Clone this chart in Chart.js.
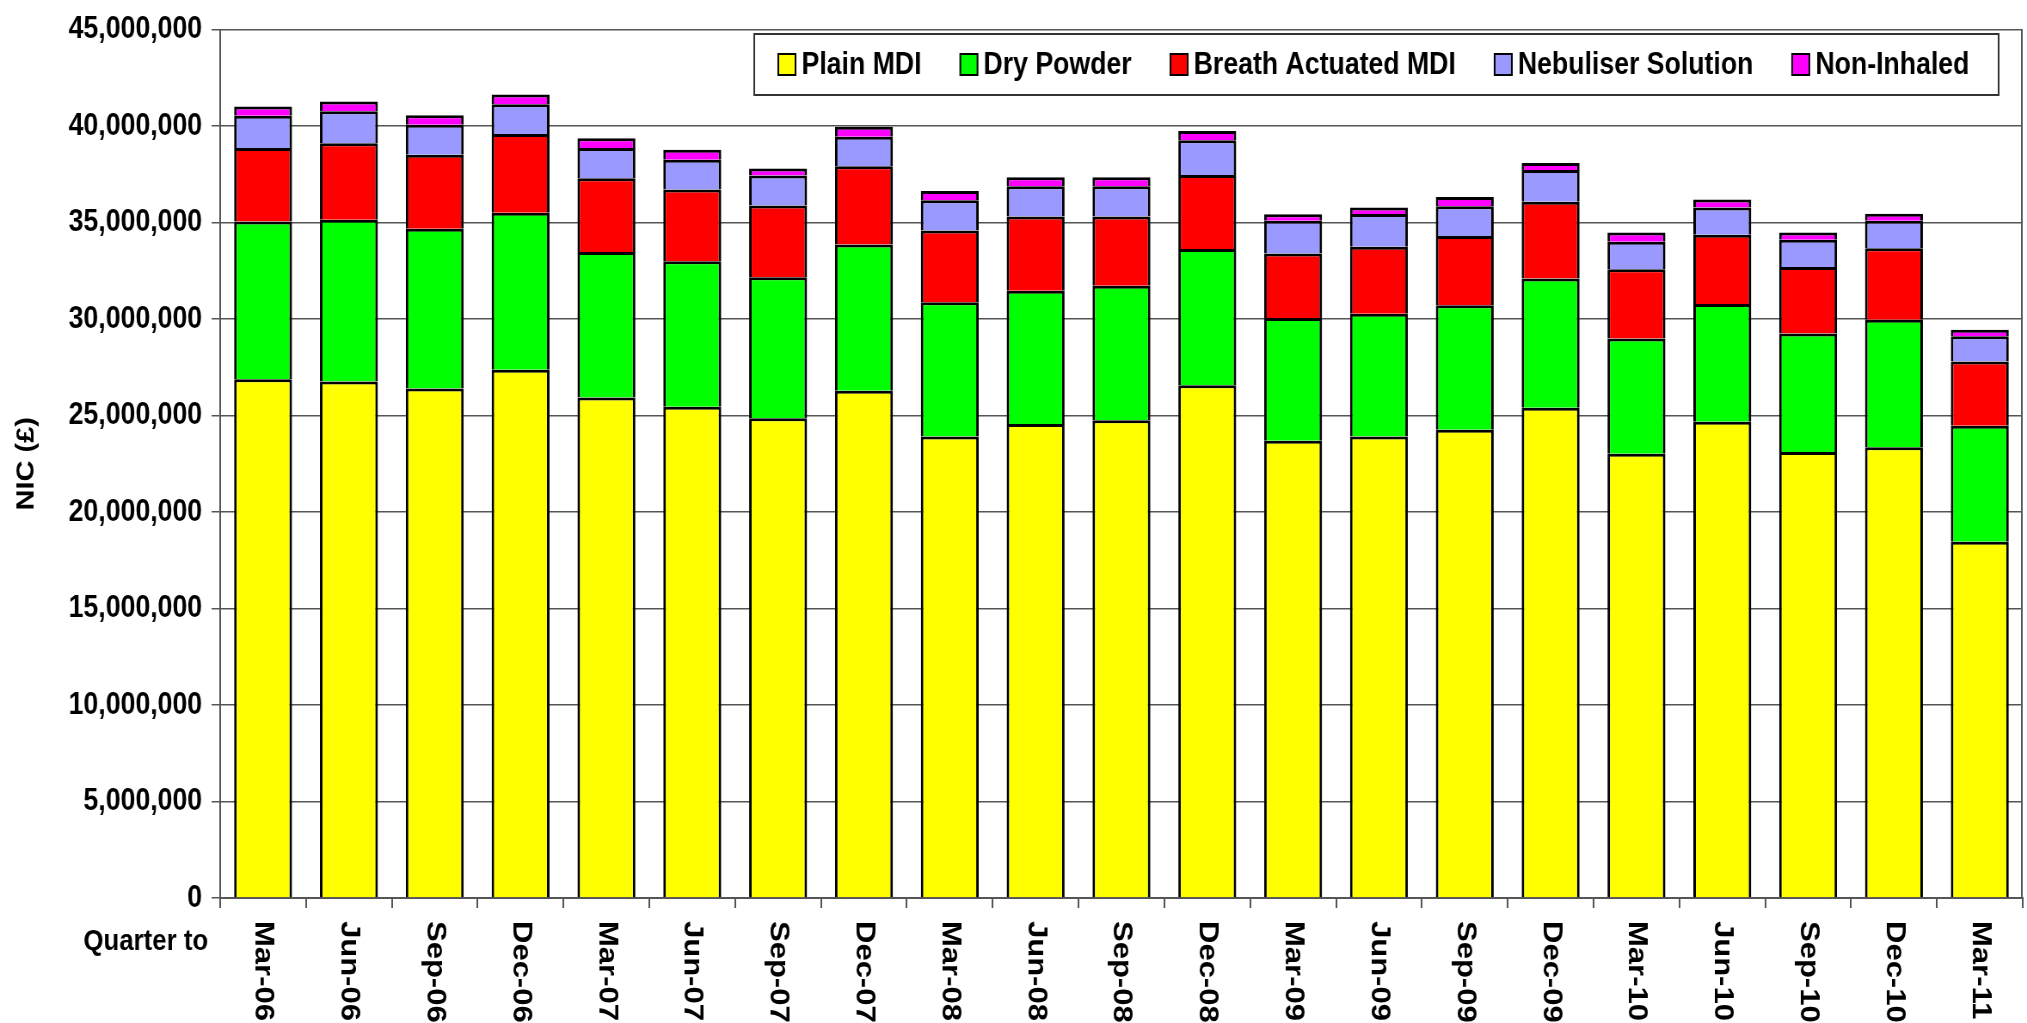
<!DOCTYPE html>
<html>
<head>
<meta charset="utf-8">
<script src="https://cdn.jsdelivr.net/npm/chart.js@4.4.1/dist/chart.umd.min.js"></script>
<style>
  html, body { margin: 0; padding: 0; background: #fff; overflow: hidden; }
  #nicChart { display: block; }
</style>
</head>
<body>
<canvas id="nicChart"></canvas>
<script>
// Quarterly NIC (£ million) by inhaler type
const quarters = ['Mar-06', 'Jun-06', 'Sep-06', 'Dec-06', 'Mar-07', 'Jun-07', 'Sep-07', 'Dec-07',
    'Mar-08', 'Jun-08', 'Sep-08', 'Dec-08', 'Mar-09', 'Jun-09', 'Sep-09', 'Dec-09',
    'Mar-10', 'Jun-10', 'Sep-10', 'Dec-10', 'Mar-11'];

const plainMdi = [26.88, 26.77, 26.40, 27.37, 25.94, 25.46, 24.86, 26.29, 23.92, 24.56, 24.76,
    26.57, 23.70, 23.92, 24.26, 25.41, 23.02, 24.68, 23.11, 23.36, 18.46];
const dryPowder = [8.17, 8.38, 8.28, 8.14, 7.54, 7.54, 7.31, 7.57, 6.95, 6.91, 6.96,
    7.06, 6.35, 6.35, 6.46, 6.69, 5.97, 6.10, 6.14, 6.61, 6.01];
const breathActuated = [3.81, 3.96, 3.84, 4.08, 3.82, 3.71, 3.72, 4.06, 3.72, 3.84, 3.59,
    3.84, 3.35, 3.48, 3.59, 3.98, 3.59, 3.59, 3.45, 3.70, 3.33];
const nebuliser = [1.67, 1.66, 1.55, 1.54, 1.56, 1.55, 1.55, 1.53, 1.57, 1.57, 1.57,
    1.80, 1.69, 1.69, 1.53, 1.65, 1.43, 1.41, 1.41, 1.42, 1.31];
const nonInhaled = [0.49, 0.51, 0.49, 0.51, 0.51, 0.51, 0.36, 0.52, 0.48, 0.47, 0.47,
    0.47, 0.34, 0.34, 0.49, 0.36, 0.48, 0.41, 0.38, 0.37, 0.34];

const seriesNames = ['Plain MDI', 'Dry Powder', 'Breath Actuated MDI', 'Nebuliser Solution', 'Non-Inhaled'];
const seriesColors = ['#ffff00', '#00ff00', '#ff0000', '#9999ff', '#ff00ff'];

const yMax = 45000000;
const yStep = 5000000;

// the original picture is squeezed horizontally, so draw wider and let CSS squash it
const SQUEEZE = 0.86;
const FONT = '"Liberation Sans", Arial, sans-serif';

const canvas = document.getElementById('nicChart');
canvas.width = Math.round(2027 / SQUEEZE);
canvas.height = 1023;
// inline style so Chart.js keeps it
canvas.style.width = '2027px';
canvas.style.height = '1023px';

const toPounds = arr => arr.map(v => Math.round(v * 1000000));

// rotated category labels (read top to bottom) + "Quarter to"
const xLabelsPlugin = {
    id: 'xLabels',
    afterDraw(chart) {
        const ctx = chart.ctx;
        const xs = chart.scales.x;
        const top = chart.chartArea.bottom + 23;
        ctx.save();
        ctx.fillStyle = '#000';
        ctx.font = 'bold 31px ' + FONT;
        quarters.forEach((q, i) => {
            ctx.save();
            ctx.translate(xs.getPixelForValue(i), top);
            ctx.rotate(Math.PI / 2);
            ctx.textAlign = 'left';
            ctx.textBaseline = 'middle';
            ctx.fillText(q, 0, 0);
            ctx.restore();
        });
        ctx.font = 'bold 30px ' + FONT;
        ctx.textAlign = 'right';
        ctx.textBaseline = 'middle';
        ctx.fillText('Quarter to', chart.chartArea.left - 14, chart.chartArea.bottom + 44);
        ctx.restore();
    }
};

// right-hand frame line of the plot area
const frameRightPlugin = {
    id: 'frameRight',
    afterDatasetsDraw(chart) {
        const {ctx, chartArea} = chart;
        ctx.save();
        ctx.strokeStyle = '#555';
        ctx.lineWidth = 2;
        ctx.beginPath();
        ctx.moveTo(chartArea.right - 1, chartArea.top);
        ctx.lineTo(chartArea.right - 1, chartArea.bottom);
        ctx.stroke();
        ctx.restore();
    }
};

// boxed legend sitting inside the plot, top right
const boxLegendPlugin = {
    id: 'boxLegend',
    afterDraw(chart) {
        const ctx = chart.ctx;
        const box = {left: 877, right: 2324, top: 34, bottom: 95};
        const startX = 905, endX = 2290;
        const sw = 20, sh = 21, gapText = 7;
        const midY = (box.top + box.bottom) / 2;
        ctx.save();
        ctx.fillStyle = '#fff';
        ctx.fillRect(box.left, box.top, box.right - box.left, box.bottom - box.top);
        ctx.strokeStyle = '#333';
        ctx.lineWidth = 2;
        ctx.strokeRect(box.left, box.top, box.right - box.left, box.bottom - box.top);

        ctx.font = 'bold 31px ' + FONT;
        const ds = chart.data.datasets;
        const widths = ds.map(d => ctx.measureText(d.label).width);
        const used = widths.reduce((a, w) => a + sw + gapText + w, 0);
        const gap = (endX - startX - used) / (ds.length - 1);

        let x = startX;
        ds.forEach((d, i) => {
            ctx.fillStyle = d.backgroundColor;
            ctx.fillRect(x, midY - sh / 2, sw, sh);
            ctx.strokeStyle = '#000';
            ctx.lineWidth = 2;
            ctx.strokeRect(x, midY - sh / 2, sw, sh);
            ctx.fillStyle = '#000';
            ctx.textAlign = 'left';
            ctx.textBaseline = 'middle';
            ctx.fillText(d.label, x + sw + gapText, midY + 1);
            x += sw + gapText + widths[i] + gap;
        });
        ctx.restore();
    }
};

const seriesData = [plainMdi, dryPowder, breathActuated, nebuliser, nonInhaled];

new Chart(canvas.getContext('2d'), {
    type: 'bar',
    data: {
        labels: quarters,
        datasets: seriesNames.map((name, i) => ({
            label: name,
            data: toPounds(seriesData[i]),
            backgroundColor: seriesColors[i],
            borderColor: '#000',
            borderWidth: 3,
            categoryPercentage: 1,
            barPercentage: 0.675
        }))
    },
    options: {
        responsive: false,
        animation: false,
        devicePixelRatio: 1,
        layout: { padding: { left: 0, right: 5, top: 20, bottom: 0 } },
        plugins: {
            legend: { display: false },
            tooltip: { enabled: false }
        },
        scales: {
            x: {
                stacked: true,
                grid: {
                    display: true,
                    drawOnChartArea: false,
                    drawTicks: true,
                    tickLength: 10,
                    color: '#555',
                    lineWidth: 2
                },
                border: { display: true, color: '#555', width: 2 },
                ticks: { display: false },
                afterFit(scale) { scale.height = 125; }
            },
            y: {
                stacked: true,
                min: 0,
                max: yMax,
                ticks: {
                    stepSize: yStep,
                    color: '#000',
                    padding: 11,
                    font: { family: FONT, size: 31, weight: 'bold' },
                    callback: v => v.toLocaleString('en-US')
                },
                grid: {
                    color: '#555',
                    lineWidth: 1.5,
                    tickLength: 10
                },
                border: { display: true, color: '#555', width: 2 },
                title: {
                    display: true,
                    text: 'NIC (£)',
                    color: '#000',
                    font: { family: FONT, size: 29, weight: 'bold' },
                    padding: { top: 14, bottom: 0 }
                },
                afterFit(scale) { scale.width = 256; }
            }
        }
    },
    plugins: [frameRightPlugin, xLabelsPlugin, boxLegendPlugin]
});
</script>
</body>
</html>
